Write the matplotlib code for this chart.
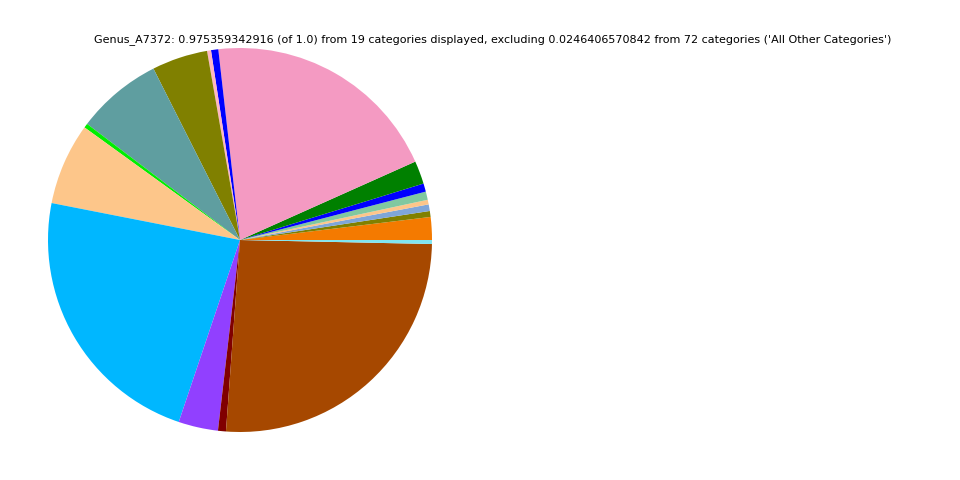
import matplotlib
matplotlib.use("Agg")
import matplotlib.pyplot as plt

categories = [
    "cat01", "cat02", "cat03", "cat04", "cat05", "cat06", "cat07", "cat08",
    "cat09", "cat10", "cat11", "cat12", "cat13", "cat14", "cat15", "cat16",
    "cat17", "cat18", "cat19",
]
# slice sizes in degrees (normalised by pie)
values = [6.9, 1.8, 2.0, 1.4, 2.5, 2.5, 7.0, 72.4, 2.2, 1.2, 16.9, 26.0,
          1.3, 24.8, 82.5, 12.0, 2.4, 93.0, 1.2]
colors = ["#f47a00", "#808000", "#7fa6d9", "#fdc68a", "#80c8a0", "#0000ff",
          "#008000", "#f49ac2", "#0000ff", "#ffb6c1", "#808000", "#5f9ea0",
          "#00ee00", "#fdc68a", "#00b7ff", "#9140ff", "#800000", "#a64800",
          "#80e5f0"]
title = ("Genus_A7372: 0.975359342916 (of 1.0) from 19 categories displayed, "
         "excluding 0.0246406570842 from 72 categories ('All Other Categories')")

fig = plt.figure(figsize=(9.6, 4.8), dpi=100)
ax = fig.add_axes([48 / 960, 48 / 480, 384 / 960, 384 / 480])
ax.pie(values, colors=colors, startangle=0, counterclock=True,
       wedgeprops=dict(linewidth=0))
ax.set_xlim(-1, 1)
ax.set_ylim(-1, 1)
ax.set_aspect("equal")
ax.axis("off")
fig.text(493 / 960, 1 - 40 / 480, title, ha="center", va="center", fontsize=8)
fig.savefig("out.png", dpi=100)
